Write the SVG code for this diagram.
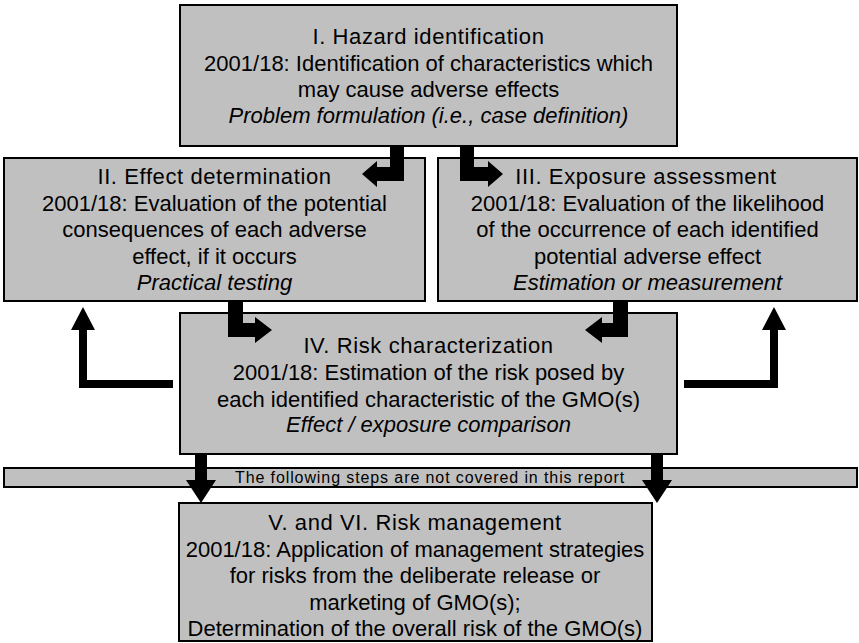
<svg xmlns="http://www.w3.org/2000/svg" width="859" height="643" viewBox="0 0 859 643">
<style>
.box{fill:#c0c0c0;stroke:#000;stroke-width:2}
.t{font-family:"Liberation Sans",Arial,sans-serif;font-size:22px;fill:#000;text-anchor:middle}
.h{letter-spacing:0.6px}
.i{font-style:italic}
.ban{font-family:"Liberation Sans",Arial,sans-serif;font-size:16px;letter-spacing:0.9px;fill:#000;text-anchor:middle}
.arr{fill:#000}
</style>
<rect width="859" height="643" fill="#fff"/>
<g id="banner">
<rect class="box" x="4" y="468" width="853" height="19"/>
<text class="ban" x="430" y="483">The following steps are not covered in this report</text>
</g>
<g id="node1">
<rect class="box" x="180" y="5" width="497" height="141"/>
<text class="t h" x="428.5" y="44">I. Hazard identification</text>
<text class="t" x="428.5" y="70.5">2001/18: Identification of characteristics which</text>
<text class="t" x="428.5" y="97">may cause adverse effects</text>
<text class="t i" x="428.5" y="123">Problem formulation (i.e., case definition)</text>
</g>
<g id="node2">
<rect class="box" x="4" y="158" width="421" height="143"/>
<text class="t h" x="214.5" y="184">II. Effect determination</text>
<text class="t" x="214.5" y="210.5">2001/18: Evaluation of the potential</text>
<text class="t" x="214.5" y="237">consequences of each adverse</text>
<text class="t" x="214.5" y="263.5">effect, if it occurs</text>
<text class="t i" x="214.5" y="290">Practical testing</text>
</g>
<g id="node3">
<rect class="box" x="438" y="158" width="419" height="143"/>
<text class="t h" x="646" y="184">III. Exposure assessment</text>
<text class="t" x="647.5" y="210.5">2001/18: Evaluation of the likelihood</text>
<text class="t" x="647.5" y="237">of the occurrence of each identified</text>
<text class="t" x="647.5" y="263.5">potential adverse effect</text>
<text class="t i" x="647.5" y="290">Estimation or measurement</text>
</g>
<g id="node4">
<rect class="box" x="180" y="313" width="497" height="141"/>
<text class="t h" x="428.5" y="353">IV. Risk characterization</text>
<text class="t" x="428.5" y="380">2001/18: Estimation of the risk posed by</text>
<text class="t" x="428.5" y="407">each identified characteristic of the GMO(s)</text>
<text class="t i" x="428.5" y="432">Effect / exposure comparison</text>
</g>
<g id="node5">
<rect class="box" x="179" y="503" width="473" height="138"/>
<text class="t h" x="415" y="530">V. and VI. Risk management</text>
<text class="t" x="415" y="556.5">2001/18: Application of management strategies</text>
<text class="t" x="415" y="583">for risks from the deliberate release or</text>
<text class="t" x="415" y="609.5">marketing of GMO(s);</text>
<text class="t" x="415" y="636">Determination of the overall risk of the GMO(s)</text>
</g>
<g id="connectors">
<polygon class="arr" points="390,146 404,146 404,181 377,181 377,187 362,174 377,161 377,167 390,167"/>
<polygon class="arr" points="460,146 474,146 474,167 488,167 488,161 503,174 488,187 488,181 460,181"/>
<polygon class="arr" points="228,301 243,301 243,323 255,323 255,317 272,330 255,343 255,337 228,337"/>
<polygon class="arr" points="613,301 628,301 628,337 602,337 602,343 585,330 602,317 602,323 613,323"/>
<polygon class="arr" points="173,380 173,388 79,388 79,330 71,330 83,307 95,330 87,330 87,380"/>
<polygon class="arr" points="684,380 684,388 778,388 778,330 786,330 774,307 762,330 770,330 770,380"/>
<polygon class="arr" points="195,454 207,454 207,480 216,480 201,503 186,480 195,480"/>
<polygon class="arr" points="651,454 663,454 663,480 672,480 657,503 642,480 651,480"/>
</g>
</svg>
